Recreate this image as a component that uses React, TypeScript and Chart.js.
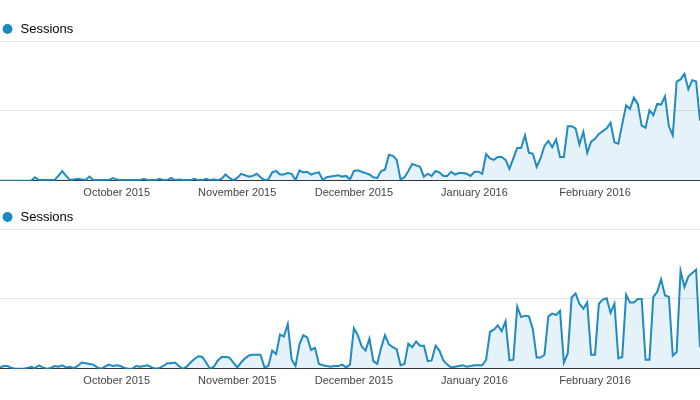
import React, { useEffect, useRef } from 'react';
import { Chart, registerables } from 'chart.js';

Chart.register(...registerables);

// Daily categories: 1 Sep 2015 .. 28 Feb 2016 (181 days)
const FIRST_DAY = Date.UTC(2015, 8, 1);
const DAY_COUNT = 181;
const dayLabels: string[] = [];
for (let i = 0; i < DAY_COUNT; i++) {
  dayLabels.push(new Date(FIRST_DAY + i * 86400000).toISOString().slice(0, 10));
}

// Month tick labels shown on the x axis
const monthTicks: Record<string, string> = {
  '2015-10-01': 'October 2015',
  '2015-11-01': 'November 2015',
  '2015-12-01': 'December 2015',
  '2016-01-01': 'January 2016',
  '2016-02-01': 'February 2016',
};

const legendLabel = 'Sessions';

// Upper chart sessions
const topSessions: number[] = [
  0, 0, 0, 0, 0, 0, 0, 0, 0, 5,
  1, 1, 1, 1, 1, 7, 14, 7, 1, 2,
  3, 2, 1, 6, 1, 1, 1, 1, 1, 4,
  2, 1, 1, 1, 1, 1, 1, 3, 1, 1,
  1, 3, 1, 1, 4, 1, 2, 1, 1, 1,
  3, 1, 1, 3, 1, 2, 1, 3, 9, 4,
  1, 4, 10, 8, 6, 7, 10, 5, 1, 2,
  12, 14, 9, 9, 11, 10, 1, 15, 12, 13,
  9, 11, 12, 1, 5, 6, 7, 8, 6, 7,
  2, 14, 15, 13, 11, 9, 5, 4, 14, 16,
  37, 36, 30, 2, 5, 14, 24, 22, 20, 6,
  10, 7, 14, 12, 7, 7, 13, 9, 11, 11,
  10, 7, 13, 13, 10, 38, 32, 30, 34, 34,
  30, 17, 32, 47, 47, 65, 40, 39, 20, 32,
  50, 57, 48, 59, 34, 34, 78, 78, 75, 52,
  70, 40, 56, 60, 67, 71, 75, 83, 55, 53,
  81, 108, 103, 119, 110, 79, 76, 101, 94, 110,
  109, 121, 78, 65, 142, 145, 153, 131, 144, 142,
  86,
];

// Lower chart sessions
const bottomSessions: number[] = [
  2, 4, 4, 1, 0, 0, 0, 1, 3, 1,
  5, 2, 0, 1, 4, 3, 5, 2, 3, 1,
  4, 9, 8, 7, 6, 2, 0, 3, 6, 4,
  5, 4, 1, 0, 0, 4, 3, 4, 5, 2,
  0, 1, 4, 8, 8, 9, 4, 0, 3, 9,
  14, 18, 17, 9, 0, 3, 12, 17, 17, 16,
  9, 2, 9, 15, 19, 20, 20, 20, 2, 4,
  26, 21, 49, 46, 64, 13, 4, 35, 48, 45,
  27, 30, 7, 5, 4, 3, 4, 4, 6, 2,
  6, 58, 48, 32, 26, 43, 11, 7, 30, 48,
  35, 31, 28, 5, 7, 36, 31, 39, 33, 33,
  11, 12, 33, 26, 12, 6, 2, 3, 4, 5,
  3, 4, 5, 5, 5, 13, 53, 56, 62, 54,
  68, 12, 13, 89, 74, 76, 75, 57, 16, 16,
  20, 75, 79, 77, 83, 9, 22, 102, 108, 93,
  86, 95, 20, 20, 93, 99, 101, 80, 93, 15,
  17, 106, 95, 95, 100, 100, 13, 13, 103, 110,
  128, 105, 103, 19, 24, 140, 117, 132, 137, 142,
  31,
];

const FONT = "Arial, 'Liberation Sans', sans-serif";
const LINE_COLOR = '#1f8bc0';
const FILL_COLOR = 'rgba(30, 140, 200, 0.11)';
const DOT_COLOR = '#1a8ac4';

function SessionsChart({ values }: { values: number[] }) {
  const ref = useRef<HTMLCanvasElement | null>(null);

  useEffect(() => {
    if (!ref.current) return;
    const chart = new Chart(ref.current, {
      type: 'line',
      data: {
        labels: dayLabels,
        datasets: [
          {
            label: legendLabel,
            data: values,
            borderColor: LINE_COLOR,
            backgroundColor: FILL_COLOR,
            borderWidth: 2,
            pointRadius: 0,
            pointHoverRadius: 0,
            fill: 'origin',
            tension: 0,
          },
        ],
      },
      options: {
        responsive: false,
        animation: false,
        layout: { autoPadding: false, padding: { top: 21.5, bottom: 2, left: 0, right: 0 } },
        plugins: {
          legend: {
            display: true,
            position: 'top',
            align: 'start',
            maxHeight: 19.5,
            labels: {
              usePointStyle: true,
              boxWidth: 13,
              boxHeight: 7,
              padding: 1,
              color: '#333',
              font: { family: FONT, size: 13 },
              generateLabels: () => [
                {
                  text: legendLabel,
                  fillStyle: DOT_COLOR,
                  strokeStyle: DOT_COLOR,
                  lineWidth: 0,
                  pointStyle: 'circle',
                  hidden: false,
                  datasetIndex: 0,
                } as any,
              ],
            },
          },
          tooltip: { enabled: false },
        },
        scales: {
          x: {
            type: 'category',
            offset: false,
            grid: {
              display: true,
              drawOnChartArea: false,
              drawTicks: true,
              tickLength: 6,
              color: 'rgba(0,0,0,0)',
            },
            border: { display: false },
            ticks: {
              autoSkip: false,
              maxRotation: 0,
              minRotation: 0,
              padding: 0,
              color: '#444',
              font: { family: FONT, size: 11 },
              callback: (_v: any, i: number) => monthTicks[dayLabels[i]] ?? '',
            },
          },
          y: {
            min: 0,
            max: 200,
            ticks: { display: false, stepSize: 100 },
            border: { display: false },
            grid: {
              drawTicks: false,
              lineWidth: 1,
              color: (c: any) => (c.tick && c.tick.value === 0 ? '#333' : '#e6e6e6'),
            },
          },
        },
      },
    });
    return () => chart.destroy();
  }, [values]);

  return <canvas ref={ref} width={700} height={202} style={{ display: 'block' }} />;
}

export default function App() {
  return (
    <div style={{ position: 'fixed', left: 0, top: 0, width: 700, height: 400, background: '#fff', overflow: 'hidden' }}>
      <div style={{ position: 'absolute', left: 0, top: 0, width: 700, height: 202 }}>
        <SessionsChart values={topSessions} />
      </div>
      <div style={{ position: 'absolute', left: 0, top: 188, width: 700, height: 202 }}>
        <SessionsChart values={bottomSessions} />
      </div>
    </div>
  );
}
